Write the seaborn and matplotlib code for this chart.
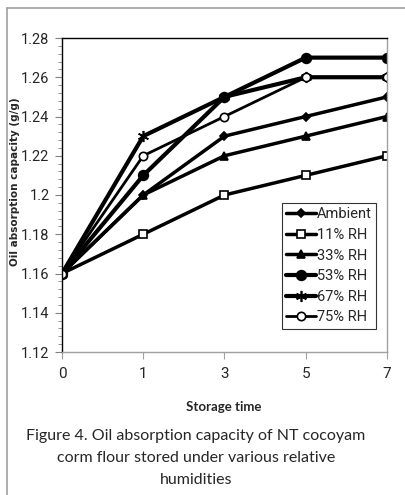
import matplotlib
matplotlib.use("Agg")
import matplotlib.pyplot as plt
from matplotlib.lines import Line2D
import seaborn as sns
import numpy as np
import pandas as pd
from matplotlib.ticker import MultipleLocator

storage_time = ["0", "1", "3", "5", "7"]
ambient = [1.16, 1.20, 1.23, 1.24, 1.25]
rh11 = [1.16, 1.18, 1.20, 1.21, 1.22]
rh33 = [1.16, 1.20, 1.22, 1.23, 1.24]
rh53 = [1.16, 1.21, 1.25, 1.27, 1.27]
rh67 = [1.16, 1.23, 1.25, 1.26, 1.26]
rh75 = [1.16, 1.22, 1.24, 1.26, 1.26]
series_names = ["Ambient", "11% RH", "33% RH", "53% RH", "67% RH", "75% RH"]
series_vals = [ambient, rh11, rh33, rh53, rh67, rh75]
y_ticks = [1.12, 1.14, 1.16, 1.18, 1.2, 1.22, 1.24, 1.26, 1.28]

sns.set_style("white")
plt.rcParams['font.family'] = ['Roboto', 'DejaVu Sans']

fig = plt.figure(figsize=(4.06, 4.95), dpi=100)
# outer frame (top and left edges only visible)
fig.add_artist(Line2D([7/406, 1], [1 - 8/495, 1 - 8/495], transform=fig.transFigure, color="#a0a0a0", lw=1.2))
fig.add_artist(Line2D([7/406, 7/406], [0, 1 - 8/495], transform=fig.transFigure, color="#a0a0a0", lw=1.2))

ax = fig.add_axes([62/406, 1 - 352/495, 325/406, 314/495])

styles = [
    dict(marker="D", ms=4.5, mfc="black", lw=2.5),
    dict(marker="s", ms=6, mfc="white", lw=2.5),
    dict(marker="^", ms=6, mfc="black", lw=2.5),
    dict(marker="o", ms=7, mfc="black", lw=3.0),
    dict(marker=(6, 2, 0), ms=8, mfc="black", lw=3.0),
    dict(marker="o", ms=6, mfc="white", lw=2.0),
]

x = np.arange(len(storage_time))
for name, vals, st in zip(series_names, series_vals, styles):
    df = pd.DataFrame({"t": x, "v": vals})
    sns.lineplot(data=df, x="t", y="v", ax=ax, color="black", label=name,
                 marker=st["marker"], markersize=st["ms"], markerfacecolor=st["mfc"],
                 markeredgecolor="black", markeredgewidth=1.2, linewidth=st["lw"])

ax.set_xlim(0, 4)
ax.set_ylim(1.12, 1.28)
ax.set_xticks(x)
ax.set_xticklabels(storage_time)
ax.set_yticks(y_ticks)
ax.set_yticklabels([f"{v:g}" for v in y_ticks])
ax.yaxis.set_minor_locator(MultipleLocator(0.004))
ax.tick_params(axis="y", which="major", left=True, length=5, width=0.8, labelsize=10.5, pad=4, color="#808080")
ax.tick_params(axis="y", which="minor", left=True, length=3, width=0.6, color="#808080")
ax.tick_params(axis="x", which="major", bottom=True, length=5, width=0.8, labelsize=11, pad=6, color="#a0a0a0")

for s in ["top", "left"]:
    ax.spines[s].set_color("black")
    ax.spines[s].set_linewidth(1.0)
for s in ["right", "bottom"]:
    ax.spines[s].set_color("#a0a0a0")
    ax.spines[s].set_linewidth(1.0)

ax.set_xlabel("")
ax.set_ylabel("")
fig.text(224/406, 1 - 407/495, "Storage time", ha="center", va="center", fontsize=9.5,
         fontweight="bold", family=["Lato", "DejaVu Sans"])
fig.text(15/406, 1 - 182/495, "Oil absorption capacity (g/g)", ha="center", va="center",
         rotation=90, fontsize=7.5, fontweight="bold", family=["DejaVu Sans"])

leg = ax.legend(loc="upper left", bbox_to_anchor=(220/325, (352 - 203) / 314), frameon=True,
                fancybox=False, edgecolor="black", fontsize=10.5, handlelength=2.0,
                handletextpad=0.1, labelspacing=0.45, borderpad=0.3, borderaxespad=0)
leg.get_frame().set_linewidth(0.8)

caption = "Figure 4. Oil absorption capacity of NT cocoyam\ncorm flour stored under various relative\nhumidities"
fig.text(196/406, 1 - 458/495, caption, ha="center", va="center", fontsize=11.5,
         family=["Lato", "DejaVu Sans"], linespacing=1.75)

fig.savefig("out.png", dpi=100)
